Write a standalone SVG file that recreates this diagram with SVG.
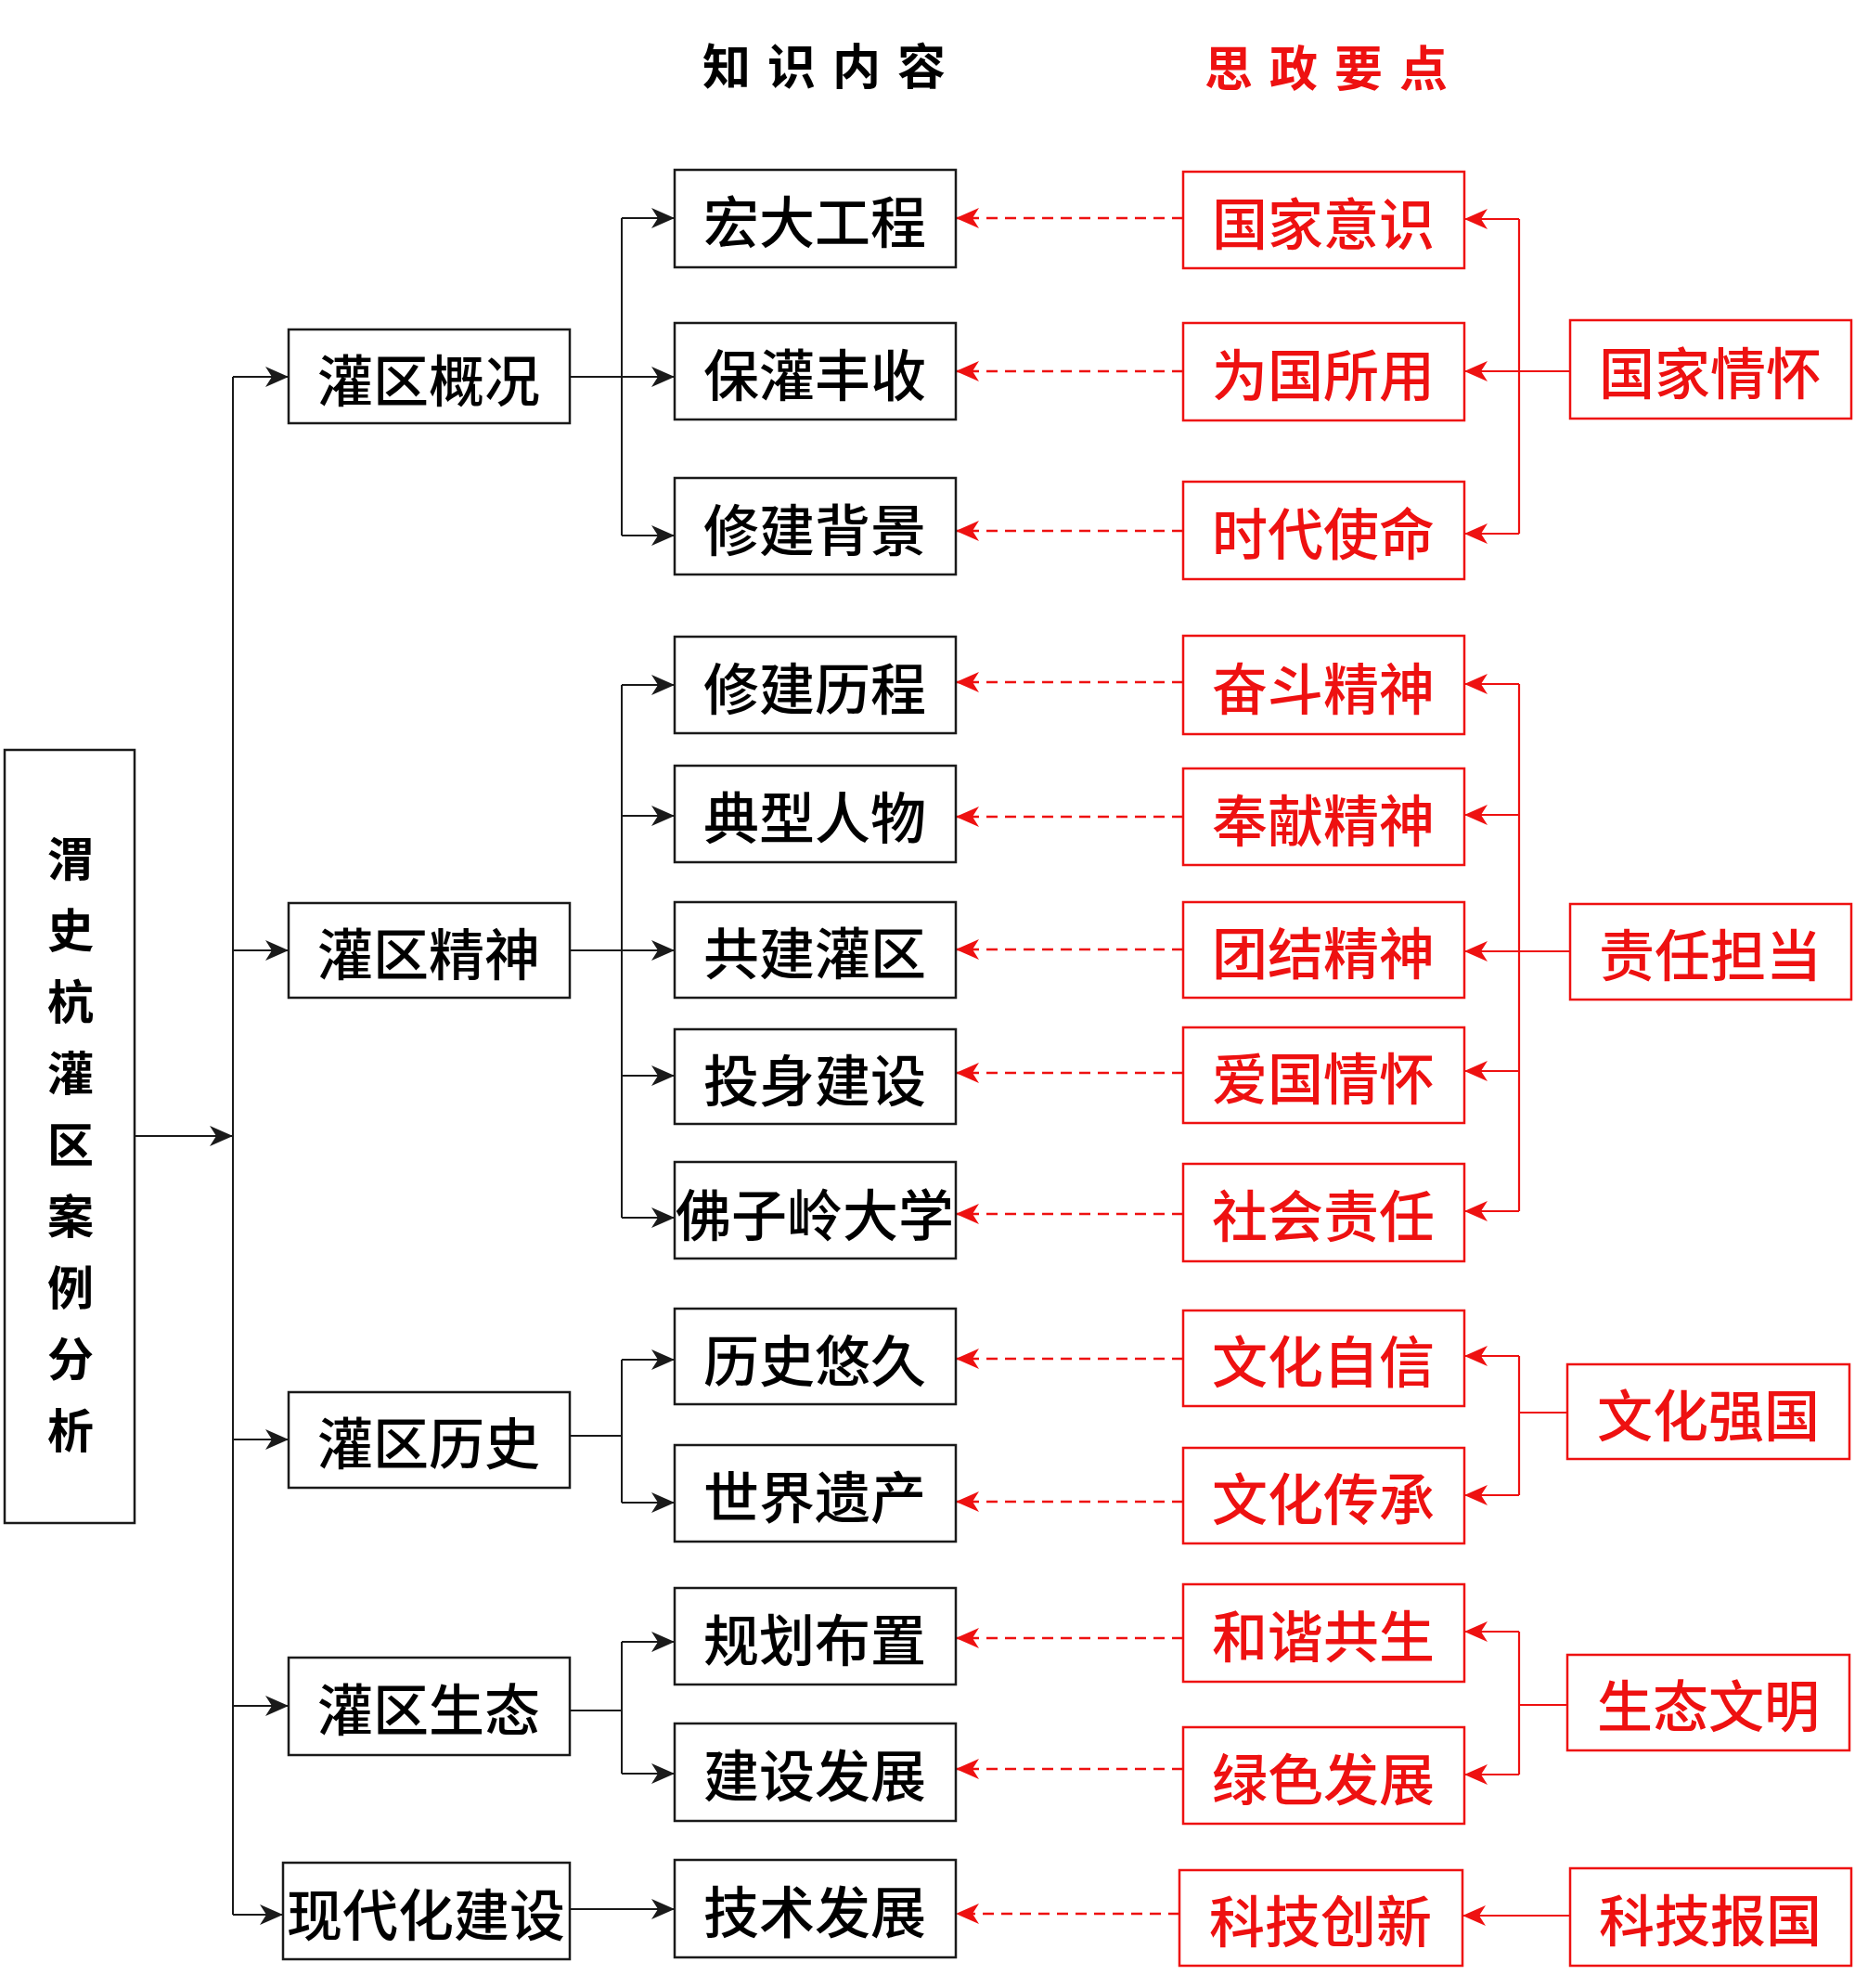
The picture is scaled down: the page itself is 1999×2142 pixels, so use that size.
<svg xmlns="http://www.w3.org/2000/svg" width="1999" height="2142" viewBox="0 0 1999 2142">
<style>
.bk{fill:#fff;stroke:#1a1a1a;stroke-width:2.5}
.rb{fill:#fff;stroke:#EE1111;stroke-width:2.5}
.t{font-family:"Noto Sans CJK SC","Noto Sans",sans-serif;font-size:60px;font-weight:500;text-anchor:middle;dominant-baseline:central}
.tk{fill:#000}
.tr{fill:#EE1111}
.h{font-family:"Noto Sans CJK SC",sans-serif;font-size:52px;font-weight:bold;letter-spacing:18px;dominant-baseline:central}
.v{font-family:"Noto Sans CJK SC",sans-serif;font-size:50px;font-weight:bold;text-anchor:middle;dominant-baseline:central}
.cl{fill:none;stroke:#1a1a1a;stroke-width:2}
.cr{fill:none;stroke:#EE1111;stroke-width:2.2}
.cd{fill:none;stroke:#EE1111;stroke-width:2.5;stroke-dasharray:12 8}
</style>
<defs>
<marker id="ak" markerUnits="userSpaceOnUse" markerWidth="30" markerHeight="26" refX="27" refY="13" orient="auto">
<path d="M27,13 L2,2 L9,13 L2,24 Z" fill="#1a1a1a"/>
</marker>
<marker id="ar" markerUnits="userSpaceOnUse" markerWidth="30" markerHeight="26" refX="27" refY="13" orient="auto">
<path d="M27,13 L2,2 L9,13 L2,24 Z" fill="#EE1111"/>
</marker>
</defs>
<rect width="1999" height="2142" fill="#fff"/>

<text class="h" x="757" y="68" fill="#000">知识内容</text>
<text class="h" x="1298" y="70" fill="#EE1111">思政要点</text>

<g id="connectors">
<path class="cl" d="M145,1224 H251" marker-end="url(#ak)"/>
<path class="cl" d="M251,406 V2063"/>
<path class="cl" d="M251,406 H311" marker-end="url(#ak)"/>
<path class="cl" d="M251,1024 H311" marker-end="url(#ak)"/>
<path class="cl" d="M251,1551 H311" marker-end="url(#ak)"/>
<path class="cl" d="M251,1838 H311" marker-end="url(#ak)"/>
<path class="cl" d="M251,2063 H305" marker-end="url(#ak)"/>

<path class="cl" d="M614,406 H727" marker-end="url(#ak)"/>
<path class="cl" d="M670,235 V577"/>
<path class="cl" d="M670,235 H727" marker-end="url(#ak)"/>
<path class="cl" d="M670,577 H727" marker-end="url(#ak)"/>

<path class="cl" d="M614,1024 H727" marker-end="url(#ak)"/>
<path class="cl" d="M670,738 V1312"/>
<path class="cl" d="M670,738 H727" marker-end="url(#ak)"/>
<path class="cl" d="M670,879 H727" marker-end="url(#ak)"/>
<path class="cl" d="M670,1159 H727" marker-end="url(#ak)"/>
<path class="cl" d="M670,1312 H727" marker-end="url(#ak)"/>

<path class="cl" d="M614,1547 H670"/>
<path class="cl" d="M670,1465 V1619"/>
<path class="cl" d="M670,1465 H727" marker-end="url(#ak)"/>
<path class="cl" d="M670,1619 H727" marker-end="url(#ak)"/>

<path class="cl" d="M614,1843 H670"/>
<path class="cl" d="M670,1769 V1911"/>
<path class="cl" d="M670,1769 H727" marker-end="url(#ak)"/>
<path class="cl" d="M670,1911 H727" marker-end="url(#ak)"/>

<path class="cl" d="M614,2057 H727" marker-end="url(#ak)"/>

<path class="cd" d="M1275,235 H1030" marker-end="url(#ar)"/>
<path class="cd" d="M1275,400 H1030" marker-end="url(#ar)"/>
<path class="cd" d="M1275,572 H1030" marker-end="url(#ar)"/>
<path class="cd" d="M1275,735 H1030" marker-end="url(#ar)"/>
<path class="cd" d="M1275,880 H1030" marker-end="url(#ar)"/>
<path class="cd" d="M1275,1023 H1030" marker-end="url(#ar)"/>
<path class="cd" d="M1275,1156 H1030" marker-end="url(#ar)"/>
<path class="cd" d="M1275,1308 H1030" marker-end="url(#ar)"/>
<path class="cd" d="M1275,1464 H1030" marker-end="url(#ar)"/>
<path class="cd" d="M1275,1618 H1030" marker-end="url(#ar)"/>
<path class="cd" d="M1275,1765 H1030" marker-end="url(#ar)"/>
<path class="cd" d="M1275,1906 H1030" marker-end="url(#ar)"/>
<path class="cd" d="M1271,2062 H1030" marker-end="url(#ar)"/>

<path class="cr" d="M1637,236 V575"/>
<path class="cr" d="M1637,236 H1578" marker-end="url(#ar)"/>
<path class="cr" d="M1692,400 H1578" marker-end="url(#ar)"/>
<path class="cr" d="M1637,575 H1578" marker-end="url(#ar)"/>

<path class="cr" d="M1637,737 V1305"/>
<path class="cr" d="M1637,737 H1578" marker-end="url(#ar)"/>
<path class="cr" d="M1637,878 H1578" marker-end="url(#ar)"/>
<path class="cr" d="M1692,1025 H1578" marker-end="url(#ar)"/>
<path class="cr" d="M1637,1154 H1578" marker-end="url(#ar)"/>
<path class="cr" d="M1637,1305 H1578" marker-end="url(#ar)"/>

<path class="cr" d="M1637,1461 V1611"/>
<path class="cr" d="M1637,1461 H1578" marker-end="url(#ar)"/>
<path class="cr" d="M1637,1611 H1578" marker-end="url(#ar)"/>
<path class="cr" d="M1689,1522 H1637"/>

<path class="cr" d="M1637,1758 V1912"/>
<path class="cr" d="M1637,1758 H1578" marker-end="url(#ar)"/>
<path class="cr" d="M1637,1912 H1578" marker-end="url(#ar)"/>
<path class="cr" d="M1689,1837 H1637"/>

<path class="cr" d="M1692,2064 H1576" marker-end="url(#ar)"/>
</g>

<g id="root"><rect class="bk" x="5" y="808" width="140" height="833"/>
<text class="v" x="76" y="922">渭</text><text class="v" x="76" y="999">史</text><text class="v" x="76" y="1076">杭</text><text class="v" x="76" y="1153">灌</text><text class="v" x="76" y="1230">区</text><text class="v" x="76" y="1307">案</text><text class="v" x="76" y="1384">例</text><text class="v" x="76" y="1461">分</text><text class="v" x="76" y="1538">析</text></g>

<g id="n-gaikuang"><rect class="bk" x="311" y="355" width="303" height="101"/><text class="t tk" x="462" y="406">灌区概况</text></g>
<g id="n-jingshen"><rect class="bk" x="311" y="973" width="303" height="102"/><text class="t tk" x="462" y="1024">灌区精神</text></g>
<g id="n-lishi"><rect class="bk" x="311" y="1500" width="303" height="103"/><text class="t tk" x="462" y="1551">灌区历史</text></g>
<g id="n-shengtai"><rect class="bk" x="311" y="1786" width="303" height="105"/><text class="t tk" x="462" y="1838">灌区生态</text></g>
<g id="n-xiandaihua"><rect class="bk" x="305" y="2007" width="309" height="104"/><text class="t tk" x="459" y="2059">现代化建设</text></g>

<g id="k1"><rect class="bk" x="727" y="183" width="303" height="105"/><text class="t tk" x="878" y="235">宏大工程</text></g>
<g id="k2"><rect class="bk" x="727" y="348" width="303" height="104"/><text class="t tk" x="878" y="400">保灌丰收</text></g>
<g id="k3"><rect class="bk" x="727" y="515" width="303" height="104"/><text class="t tk" x="878" y="567">修建背景</text></g>
<g id="k4"><rect class="bk" x="727" y="686" width="303" height="104"/><text class="t tk" x="878" y="738">修建历程</text></g>
<g id="k5"><rect class="bk" x="727" y="825" width="303" height="104"/><text class="t tk" x="878" y="877">典型人物</text></g>
<g id="k6"><rect class="bk" x="727" y="972" width="303" height="103"/><text class="t tk" x="878" y="1023">共建灌区</text></g>
<g id="k7"><rect class="bk" x="727" y="1109" width="303" height="102"/><text class="t tk" x="878" y="1160">投身建设</text></g>
<g id="k8"><rect class="bk" x="727" y="1252" width="303" height="104"/><text class="t tk" x="878" y="1305">佛子岭大学</text></g>
<g id="k9"><rect class="bk" x="727" y="1410" width="303" height="103"/><text class="t tk" x="878" y="1462">历史悠久</text></g>
<g id="k10"><rect class="bk" x="727" y="1557" width="303" height="104"/><text class="t tk" x="878" y="1609">世界遗产</text></g>
<g id="k11"><rect class="bk" x="727" y="1711" width="303" height="104"/><text class="t tk" x="878" y="1763">规划布置</text></g>
<g id="k12"><rect class="bk" x="727" y="1857" width="303" height="105"/><text class="t tk" x="878" y="1909">建设发展</text></g>
<g id="k13"><rect class="bk" x="727" y="2004" width="303" height="105"/><text class="t tk" x="878" y="2056">技术发展</text></g>

<g id="s1"><rect class="rb" x="1275" y="185" width="303" height="104"/><text class="t tr" x="1426" y="237">国家意识</text></g>
<g id="s2"><rect class="rb" x="1275" y="348" width="303" height="105"/><text class="t tr" x="1426" y="400">为国所用</text></g>
<g id="s3"><rect class="rb" x="1275" y="519" width="303" height="105"/><text class="t tr" x="1426" y="571">时代使命</text></g>
<g id="s4"><rect class="rb" x="1275" y="685" width="303" height="106"/><text class="t tr" x="1426" y="738">奋斗精神</text></g>
<g id="s5"><rect class="rb" x="1275" y="828" width="303" height="104"/><text class="t tr" x="1426" y="880">奉献精神</text></g>
<g id="s6"><rect class="rb" x="1275" y="972" width="303" height="103"/><text class="t tr" x="1426" y="1023">团结精神</text></g>
<g id="s7"><rect class="rb" x="1275" y="1107" width="303" height="103"/><text class="t tr" x="1426" y="1158">爱国情怀</text></g>
<g id="s8"><rect class="rb" x="1275" y="1254" width="303" height="105"/><text class="t tr" x="1426" y="1306">社会责任</text></g>
<g id="s9"><rect class="rb" x="1275" y="1412" width="303" height="103"/><text class="t tr" x="1426" y="1463">文化自信</text></g>
<g id="s10"><rect class="rb" x="1275" y="1560" width="303" height="103"/><text class="t tr" x="1426" y="1611">文化传承</text></g>
<g id="s11"><rect class="rb" x="1275" y="1707" width="303" height="105"/><text class="t tr" x="1426" y="1759">和谐共生</text></g>
<g id="s12"><rect class="rb" x="1275" y="1861" width="303" height="104"/><text class="t tr" x="1426" y="1913">绿色发展</text></g>
<g id="s13"><rect class="rb" x="1271" y="2015" width="305" height="103"/><text class="t tr" x="1423" y="2066">科技创新</text></g>

<g id="g1"><rect class="rb" x="1692" y="345" width="303" height="106"/><text class="t tr" x="1843" y="398">国家情怀</text></g>
<g id="g2"><rect class="rb" x="1692" y="974" width="303" height="103"/><text class="t tr" x="1843" y="1025">责任担当</text></g>
<g id="g3"><rect class="rb" x="1689" y="1470" width="304" height="102"/><text class="t tr" x="1841" y="1521">文化强国</text></g>
<g id="g4"><rect class="rb" x="1689" y="1783" width="304" height="103"/><text class="t tr" x="1841" y="1834">生态文明</text></g>
<g id="g5"><rect class="rb" x="1692" y="2013" width="303" height="105"/><text class="t tr" x="1843" y="2065">科技报国</text></g>
</svg>
